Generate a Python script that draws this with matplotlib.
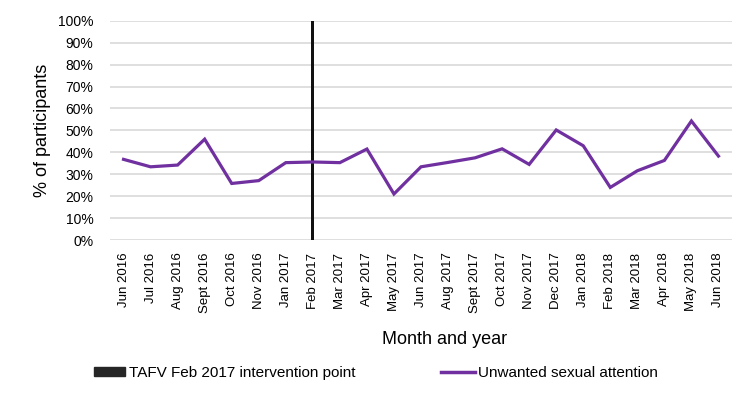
import matplotlib.pyplot as plt
from matplotlib.patches import Patch
from matplotlib.lines import Line2D

months = ["Jun 2016", "Jul 2016", "Aug 2016", "Sept 2016", "Oct 2016", "Nov 2016",
          "Jan 2017", "Feb 2017", "Mar 2017", "Apr 2017", "May 2017", "Jun 2017",
          "Aug 2017", "Sept 2017", "Oct 2017", "Nov 2017", "Dec 2017", "Jan 2018",
          "Feb 2018", "Mar 2018", "Apr 2018", "May 2018", "Jun 2018"]
unwanted = [36.8, 33.4, 34.2, 46.0, 25.8, 27.1, 35.3, 35.6, 35.3, 41.5, 21.0, 33.4,
            35.4, 37.5, 41.6, 34.5, 50.2, 43.0, 24.0, 31.6, 36.3, 54.3, 38.3]
intervention_month = "Feb 2017"
intervention_value = 100

purple = "#7030A0"
plt.rcParams['font.family'] = ['Liberation Sans', 'DejaVu Sans']

fig = plt.figure(figsize=(7.54, 4.16), dpi=100)
ax = fig.add_axes([0.1459, 0.423, 0.8249, 0.527])

x = list(range(len(months)))
ix = months.index(intervention_month)
ax.bar(ix, intervention_value, width=0.12, color="#111111", zorder=3)
ax.plot(x, unwanted, color=purple, lw=2.3, zorder=4, solid_joinstyle='miter')

ax.set_xlim(-0.5, len(months) - 0.5)
ax.set_ylim(0, 100)
ax.set_yticks(range(0, 101, 10))
ax.set_yticklabels([f"{v}%" for v in range(0, 101, 10)], fontsize=10)
ax.set_xticks(x)
ax.set_xticklabels(months, rotation=90, fontsize=9.5)
ax.tick_params(axis='x', length=0, pad=9)
ax.tick_params(axis='y', length=0, pad=12)
ax.grid(axis='y', color="#D9D9D9", lw=1.2)
ax.set_axisbelow(True)
for s in ax.spines.values():
    s.set_visible(False)

ax.set_ylabel("% of participants", fontsize=13, labelpad=5)
fig.text(0.589, 0.185, "Month and year", fontsize=13, ha='center', va='center')

h1 = Patch(facecolor="#262626", edgecolor="#262626")
h2 = Line2D([0], [0], color=purple, lw=2.5)
fig.legend([h1], ["TAFV Feb 2017 intervention point"], loc='center left',
           bbox_to_anchor=(0.1247, 0.1034), frameon=False,
           borderpad=0, borderaxespad=0,
           handlelength=2.0, handleheight=0.5, handletextpad=0.3,
           prop={'size': 11})
fig.legend([h2], ["Unwanted sexual attention"], loc='center left',
           bbox_to_anchor=(0.5849, 0.1034), frameon=False,
           borderpad=0, borderaxespad=0,
           handlelength=2.2, handletextpad=0.2,
           prop={'size': 11})

fig.savefig("out.png", dpi=100)
